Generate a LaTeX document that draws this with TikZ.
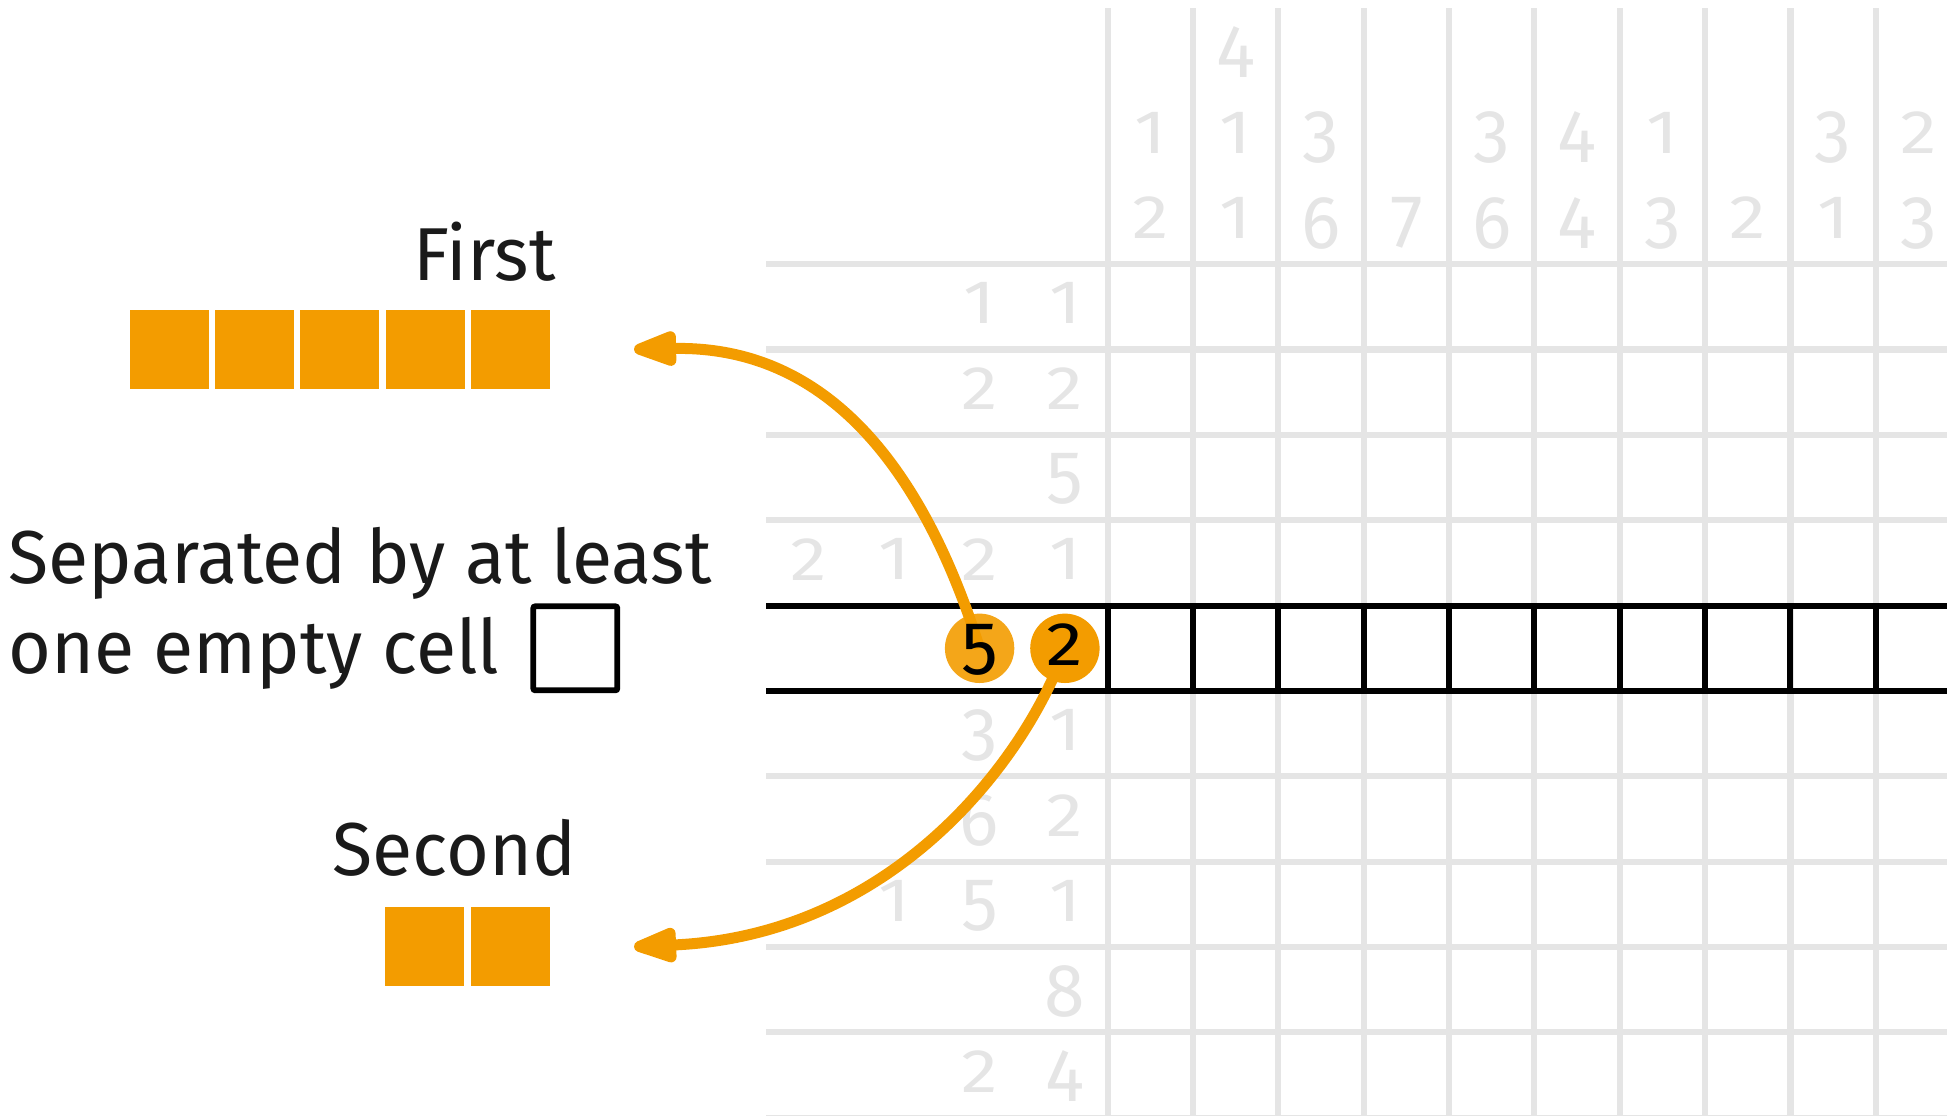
\documentclass[tikz,border=0pt]{standalone}
\usepackage{graphicx}
\usepackage{fontspec}
\setmainfont{Fira Sans}[FakeStretch=0.98]
\usetikzlibrary{arrows.meta}
\definecolor{org}{HTML}{F39C00}
\definecolor{gry}{HTML}{E5E5E5}
\definecolor{ink}{HTML}{1A1A1A}
\newcommand\dg[1]{\ifnum#1<3 \scalebox{1}[0.82]{#1}\else #1\fi}
\tikzset{
 gline/.style={draw=gry, line width=3.1pt},
 bline/.style={draw=black, line width=3pt},
 dig/.style={font=\fontsize{37.5}{45}\selectfont, inner sep=0pt, outer sep=0pt, anchor=north, text=gry},
 txt/.style={font=\fontsize{37.5}{45}\selectfont, text=ink, inner sep=0pt},
 sq/.style={fill=org, minimum size=39.5pt, inner sep=0pt},
 arr/.style={draw=org, line width=5.5pt, -{Triangle[length=27pt,width=18pt,round]}},
 badge/.style={circle, fill=org, minimum size=34.7pt, inner sep=0pt},
}
\begin{document}
\begin{tikzpicture}[x=0.5pt,y=-0.5pt]
\useasboundingbox (0,0) rectangle (1947,1115);
% grey grid
\foreach \k in {0,...,10} \draw[gline] (766,{264.2+85.35*\k}) -- (1947,{264.2+85.35*\k});
\foreach \k in {0,...,9} \draw[gline] ({1107.6+85.35*\k},8) -- ({1107.6+85.35*\k},1115);
% column clues
\foreach \k/\h/\d in {0/0/2,0/1/1, 1/0/1,1/1/1,1/2/4, 2/0/6,2/1/3, 3/0/7, 4/0/6,4/1/3, 5/0/4,5/1/4, 6/0/3,6/1/1, 7/0/2, 8/0/1,8/1/3, 9/0/3,9/1/2}
  \node[dig] (col-\k-\h) at ({1150.3+85.35*\k},{197.2-85.35*\h}) {\dg{\d}};
% row clues
\foreach \r/\j/\d in {1/1/1,1/0/1, 2/1/2,2/0/2, 3/0/5, 4/3/2,4/2/1,4/1/2,4/0/1, 6/1/3,6/0/1, 7/1/6,7/0/2, 8/2/1,8/1/5,8/0/1, 9/0/8, 10/1/2,10/0/4}
  \node[dig] (row-\r-\j) at ({1064.9-85.35*\j},{197.2+85.35*\r}) {\dg{\d}};
% highlighted row
\draw[bline] (766,605.6) -- (1947,605.6);
\draw[bline] (766,690.95) -- (1947,690.95);
\foreach \k in {0,...,9} \draw[bline] ({1107.6+85.35*\k},605.6) -- ({1107.6+85.35*\k},690.95);
% arrows and badges
\coordinate (p5) at (979.6,648.3);
\coordinate (p2) at (1064.9,648.3);
\coordinate (t1) at (634,349.3);
\coordinate (t2) at (634,946.7);
\draw[arr] (p5) .. controls (930,490) and (840,345) .. (t1);
\node[badge, fill opacity=0.9] (c5) at (p5) {};
\node[dig, text=black] (n5) at (979.6,624) {5};
\draw[arr] (p2) .. controls (1030,750) and (900,935) .. (t2);
\node[badge] (c2) at (p2) {};
\node[dig, text=black] (n2) at (1064.9,624) {\dg{2}};
% blocks
\foreach \k in {0,...,4} \node[sq] (f\k) at ({510.5-85.3*\k},349.5) {};
\foreach \k in {0,1} \node[sq] (s\k) at ({510.1-85.3*\k},946.7) {};
% texts
\node[txt, anchor=base east] (first) at (556,280) {First};
\node[txt, anchor=base east] (second) at (577,875) {Second};
\node[txt, anchor=base west] (sep1) at (8,583.3) {Separated by at least};
\node[txt, anchor=base west] (sep2) at (8,673.3) {one empty cell};
\node[draw=black, line width=2.9pt, minimum size=42pt, inner sep=0pt, rounded corners=1pt] (box) at (575.3,648.3) {};
\end{tikzpicture}
\end{document}
